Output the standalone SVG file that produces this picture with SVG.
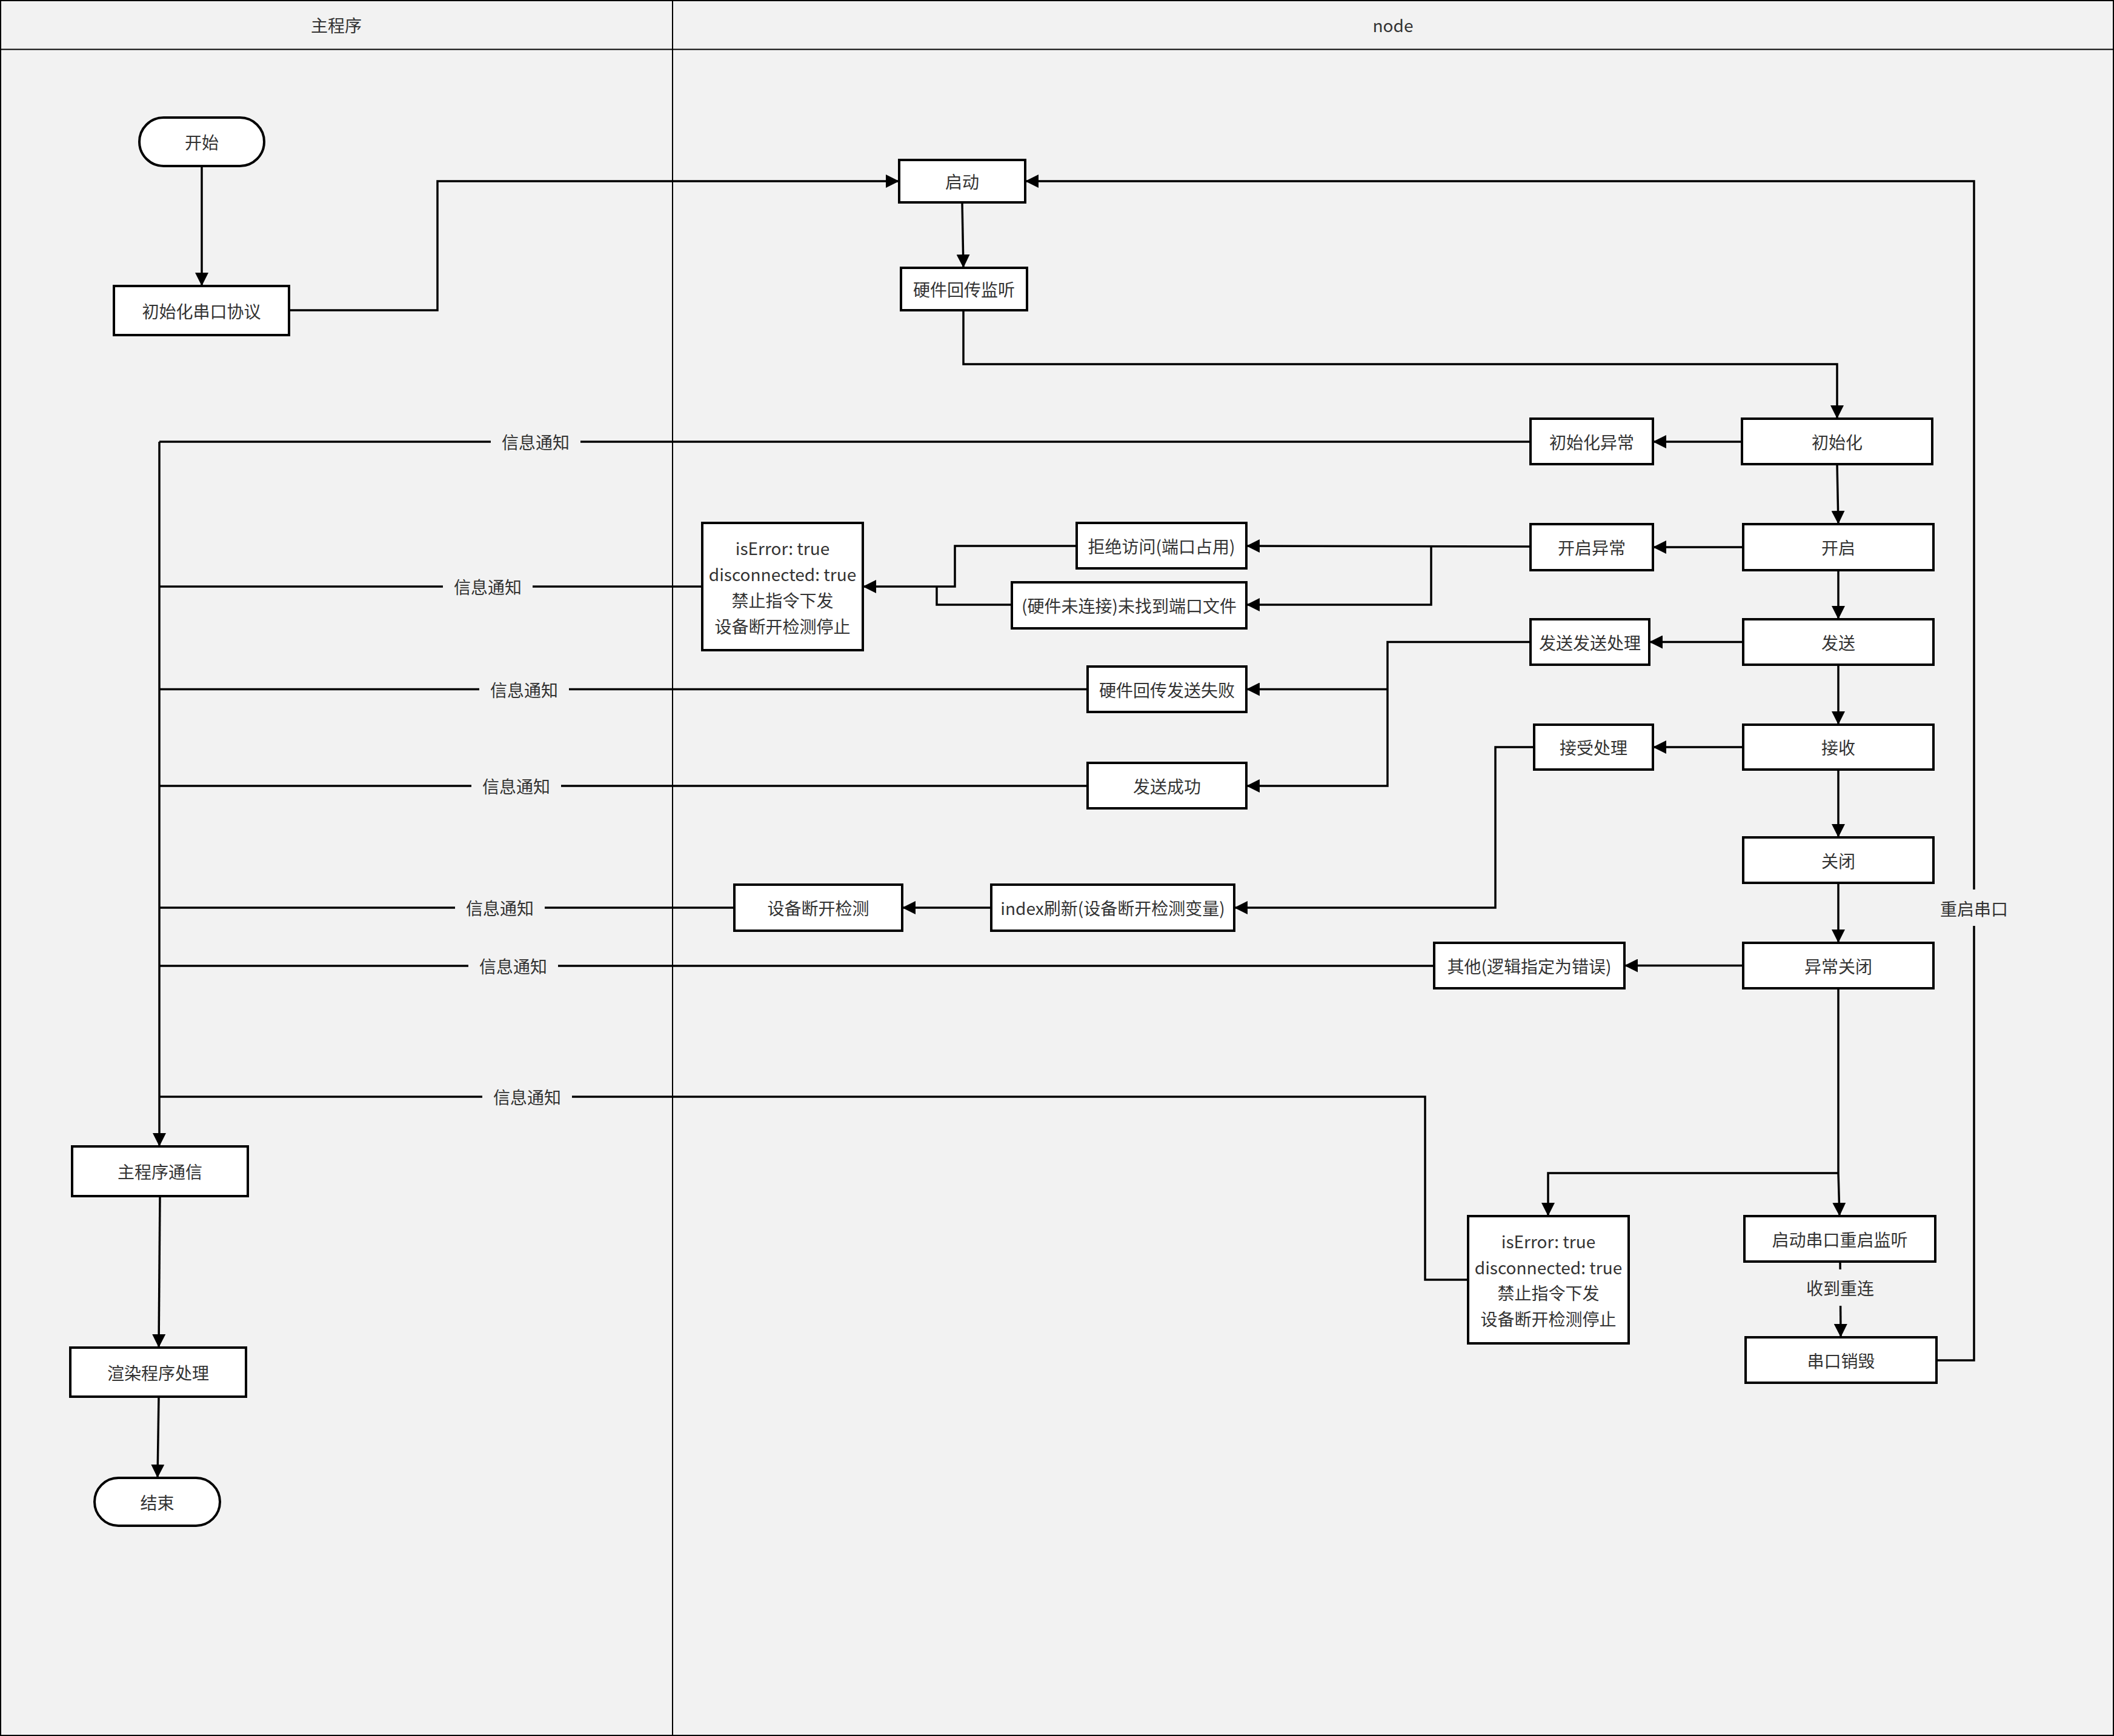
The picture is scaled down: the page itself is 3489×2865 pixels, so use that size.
<svg xmlns="http://www.w3.org/2000/svg" width="3489" height="2865" viewBox="0 0 3489 2865">
<style>
.bg{fill:#f2f2f2}
.lane{fill:none;stroke:#000;stroke-width:2}
.box{fill:#fff;stroke:#000;stroke-width:4}
.t{font-family:"Noto Sans CJK SC","Noto Sans",sans-serif;font-size:28px;fill:#333;text-anchor:middle;dominant-baseline:central}
.c{fill:none;stroke:#000;stroke-width:3.5}
.ca{fill:none;stroke:#000;stroke-width:3.5;marker-end:url(#arr)}
.lb{fill:#f2f2f2}
</style>
<defs>
<marker id="arr" markerWidth="22" markerHeight="22" refX="22" refY="11" orient="auto" markerUnits="userSpaceOnUse"><path d="M0,0 L22,11 L0,22 z" fill="#000"/></marker>
</defs>
<rect class="bg" x="0" y="0" width="3489" height="2865"/>
<g id="lanes">
<rect class="lane" x="1" y="1" width="3487" height="2863"/>
<line class="lane" x1="0" y1="81.5" x2="3489" y2="81.5"/>
<line class="lane" x1="1110" y1="0" x2="1110" y2="2865"/>
<text class="t" x="555" y="41">主程序</text>
<text class="t" x="2299" y="41">node</text>
</g>
<g id="connectors">
<path class="ca" d="M333,274 L333,472"/>
<path class="ca" d="M477,512 L722,512 L722,299 L1484,299"/>
<path class="ca" d="M1588,334 L1590,442"/>
<path class="ca" d="M1590,512 L1590,601 L3032,601 L3032,691"/>
<path class="ca" d="M2875,729 L2728,729"/>
<path class="c" d="M2526,729 L263,729"/>
<path class="ca" d="M263,729 L263,1892"/>
<path class="ca" d="M3032,766 L3034,865"/>
<path class="ca" d="M2877,903 L2728,903"/>
<path class="ca" d="M2526,902 L2057,901"/>
<path class="ca" d="M2362,902 L2362,998 L2057,998"/>
<path class="ca" d="M1777,901 L1576,901 L1576,968 L1424,968"/>
<path class="c" d="M1670,998 L1546,998 L1546,968"/>
<path class="c" d="M1159,968 L263,968"/>
<path class="ca" d="M3034,941 L3034,1022"/>
<path class="ca" d="M2877,1059.5 L2722,1059.5"/>
<path class="ca" d="M2526,1059.5 L2290,1059.5 L2290,1297 L2057,1297"/>
<path class="ca" d="M2290,1137.5 L2057,1137.5"/>
<path class="c" d="M1795,1137.5 L263,1137.5"/>
<path class="c" d="M1795,1297 L263,1297"/>
<path class="ca" d="M3034,1097 L3034,1196"/>
<path class="ca" d="M2877,1233 L2728,1233"/>
<path class="ca" d="M2532,1233 L2468,1233 L2468,1498 L2037,1498"/>
<path class="ca" d="M1636,1498 L1489,1498"/>
<path class="c" d="M1212,1498 L263,1498"/>
<path class="ca" d="M3034,1270 L3034,1382"/>
<path class="ca" d="M3034,1457 L3034,1556"/>
<path class="ca" d="M2877,1593.5 L2681,1593.5"/>
<path class="c" d="M2367,1594 L263,1594"/>
<path class="ca" d="M3034,1631 L3034,1936 L3036,2007"/>
<path class="ca" d="M3034,1936 L2555,1936 L2555,2007"/>
<path class="c" d="M2423,2112 L2352,2112 L2352,1810 L263,1810"/>
<path class="ca" d="M3037,2082 L3038,2207"/>
<path class="ca" d="M3196,2245 L3258,2245 L3258,299 L1692,299"/>
<path class="ca" d="M264,1974 L262,2224"/>
<path class="ca" d="M262,2305 L260,2439"/>
<rect class="lb" x="810" y="711" width="148" height="36"/><text class="t" x="884" y="729">信息通知</text>
<rect class="lb" x="731" y="950" width="148" height="36"/><text class="t" x="805" y="968">信息通知</text>
<rect class="lb" x="791" y="1119" width="148" height="36"/><text class="t" x="865" y="1137.5">信息通知</text>
<rect class="lb" x="778" y="1279" width="148" height="36"/><text class="t" x="852" y="1297">信息通知</text>
<rect class="lb" x="751" y="1480" width="148" height="36"/><text class="t" x="825" y="1498">信息通知</text>
<rect class="lb" x="773" y="1576" width="148" height="36"/><text class="t" x="847" y="1594">信息通知</text>
<rect class="lb" x="796" y="1792" width="148" height="36"/><text class="t" x="870" y="1810">信息通知</text>
<rect class="lb" x="2978" y="2095" width="120" height="60"/><text class="t" x="3037" y="2125">收到重连</text>
<rect class="lb" x="3198" y="1468" width="120" height="60"/><text class="t" x="3258" y="1499">重启串口</text>
</g>
<g id="n-start"><rect class="box" x="230" y="194" width="206" height="80" rx="40"/><text class="t" x="333" y="234">开始</text></g>
<g id="n-initproto"><rect class="box" x="188" y="472" width="289" height="81"/><text class="t" x="332.5" y="512.5">初始化串口协议</text></g>
<g id="n-maincomm"><rect class="box" x="119" y="1892" width="290" height="82"/><text class="t" x="264" y="1933">主程序通信</text></g>
<g id="n-render"><rect class="box" x="116" y="2224" width="290" height="81"/><text class="t" x="261" y="2264.5">渲染程序处理</text></g>
<g id="n-end"><rect class="box" x="156" y="2439" width="207" height="79" rx="39.5"/><text class="t" x="259.5" y="2478.5">结束</text></g>
<g id="n-qidong"><rect class="box" x="1484" y="264" width="208" height="70"/><text class="t" x="1588" y="299">启动</text></g>
<g id="n-listen"><rect class="box" x="1487" y="442" width="208" height="70"/><text class="t" x="1591" y="477">硬件回传监听</text></g>
<g id="n-init"><rect class="box" x="2875" y="691" width="314" height="75"/><text class="t" x="3032" y="728.5">初始化</text></g>
<g id="n-initerr"><rect class="box" x="2526" y="691" width="202" height="75"/><text class="t" x="2627" y="728.5">初始化异常</text></g>
<g id="n-open"><rect class="box" x="2877" y="865" width="314" height="76"/><text class="t" x="3034" y="903">开启</text></g>
<g id="n-openerr"><rect class="box" x="2526" y="865" width="202" height="76"/><text class="t" x="2627" y="903">开启异常</text></g>
<g id="n-refuse"><rect class="box" x="1777" y="863" width="280" height="75"/><text class="t" x="1917" y="900.5">拒绝访问(端口占用)</text></g>
<g id="n-notfound"><rect class="box" x="1670" y="961" width="387" height="76"/><text class="t" x="1863.5" y="999">(硬件未连接)未找到端口文件</text></g>
<g id="n-iserr1"><rect class="box" x="1159" y="863" width="265" height="210"/>
<text class="t" x="1291.5" y="904">isError: true</text>
<text class="t" x="1291.5" y="947">disconnected: true</text>
<text class="t" x="1291.5" y="990">禁止指令下发</text>
<text class="t" x="1291.5" y="1033">设备断开检测停止</text></g>
<g id="n-send"><rect class="box" x="2877" y="1022" width="314" height="75"/><text class="t" x="3034" y="1059.5">发送</text></g>
<g id="n-sendproc"><rect class="box" x="2526" y="1022" width="196" height="75"/><text class="t" x="2624" y="1059.5">发送发送处理</text></g>
<g id="n-sendfail"><rect class="box" x="1795" y="1100" width="262" height="75"/><text class="t" x="1926" y="1137.5">硬件回传发送失败</text></g>
<g id="n-sendok"><rect class="box" x="1795" y="1259" width="262" height="75"/><text class="t" x="1926" y="1296.5">发送成功</text></g>
<g id="n-recv"><rect class="box" x="2877" y="1196" width="314" height="74"/><text class="t" x="3034" y="1233">接收</text></g>
<g id="n-recvproc"><rect class="box" x="2532" y="1196" width="196" height="74"/><text class="t" x="2630" y="1233">接受处理</text></g>
<g id="n-close"><rect class="box" x="2877" y="1382" width="314" height="75"/><text class="t" x="3034" y="1419.5">关闭</text></g>
<g id="n-abclose"><rect class="box" x="2877" y="1556" width="314" height="75"/><text class="t" x="3034" y="1593.5">异常关闭</text></g>
<g id="n-other"><rect class="box" x="2367" y="1556" width="314" height="75"/><text class="t" x="2524" y="1593.5">其他(逻辑指定为错误)</text></g>
<g id="n-detect"><rect class="box" x="1212" y="1460" width="277" height="76"/><text class="t" x="1350.5" y="1498">设备断开检测</text></g>
<g id="n-index"><rect class="box" x="1636" y="1460" width="401" height="76"/><text class="t" x="1836.5" y="1498">index刷新(设备断开检测变量)</text></g>
<g id="n-iserr2"><rect class="box" x="2423" y="2007" width="265" height="210"/>
<text class="t" x="2555.5" y="2048">isError: true</text>
<text class="t" x="2555.5" y="2091">disconnected: true</text>
<text class="t" x="2555.5" y="2133">禁止指令下发</text>
<text class="t" x="2555.5" y="2176">设备断开检测停止</text></g>
<g id="n-restartlisten"><rect class="box" x="2879" y="2007" width="315" height="75"/><text class="t" x="3036.5" y="2044.5">启动串口重启监听</text></g>
<g id="n-destroy"><rect class="box" x="2881" y="2207" width="315" height="75"/><text class="t" x="3038.5" y="2244.5">串口销毁</text></g>
</svg>
